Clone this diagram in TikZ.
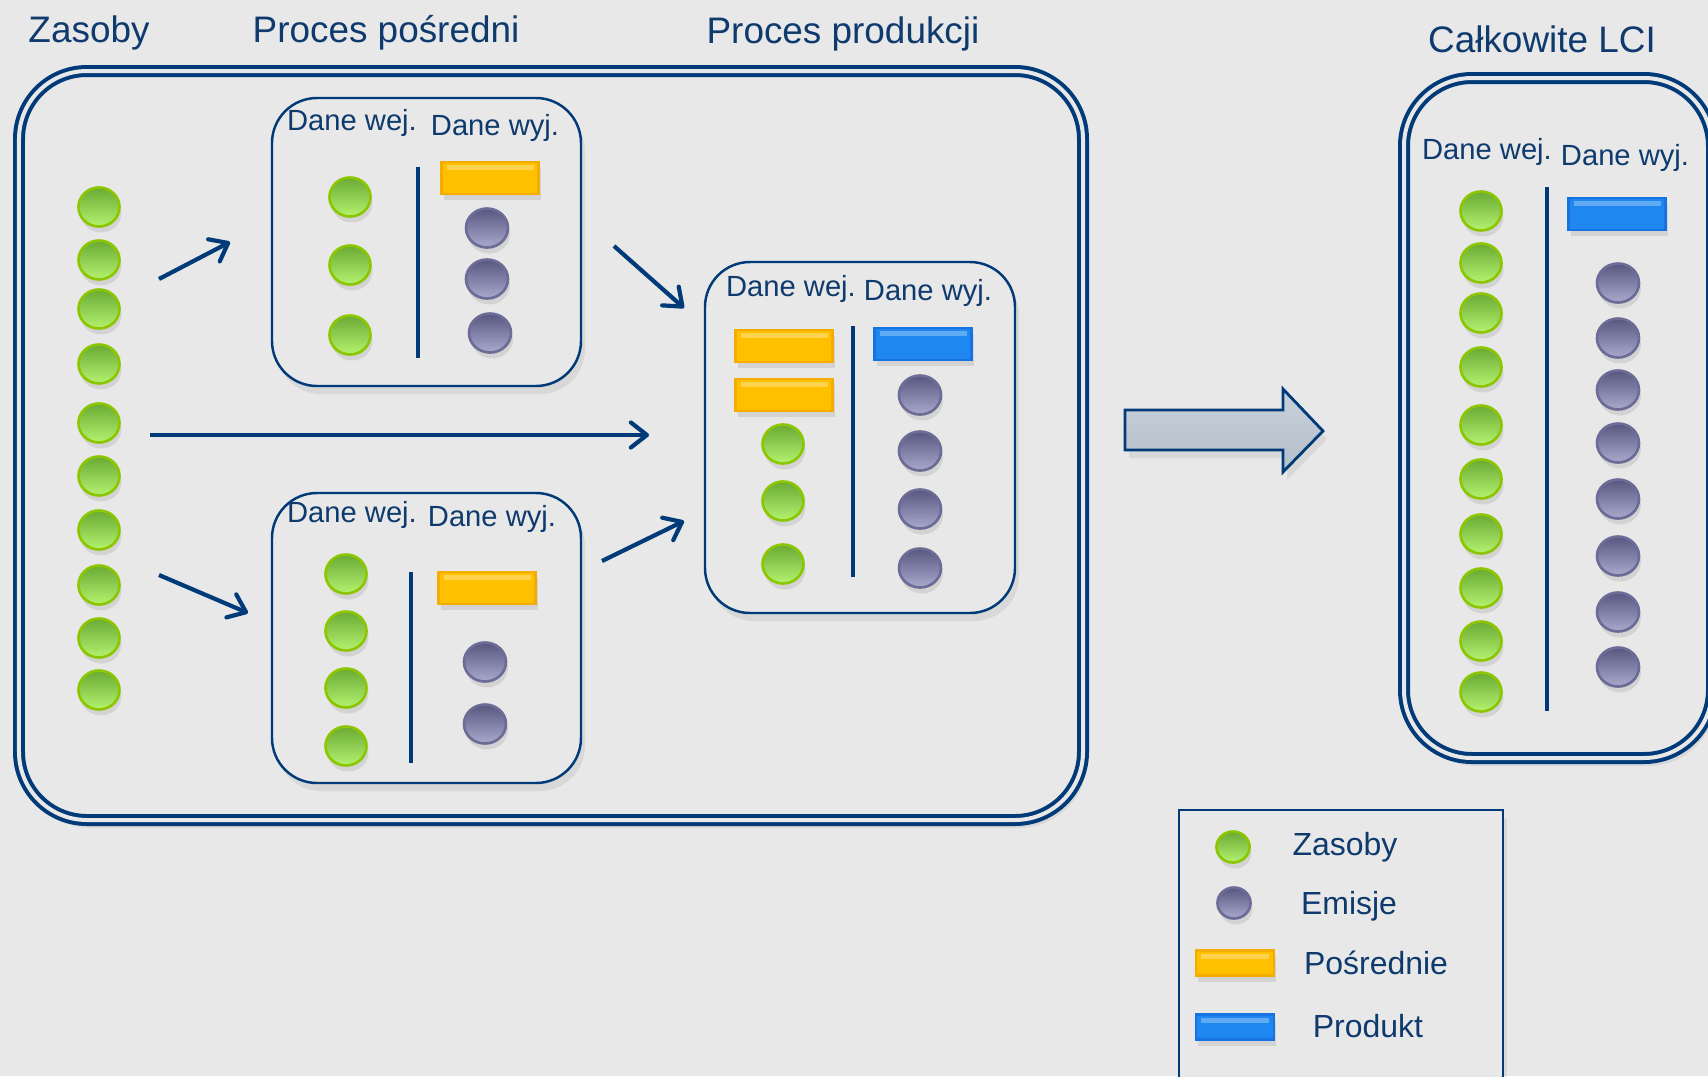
\documentclass[tikz,border=0pt]{standalone}
\usepackage{fontspec}
\setmainfont{Liberation Sans}
\usetikzlibrary{shapes.geometric, arrows.meta, shadows}

\definecolor{bg}{RGB}{232,232,232}
\definecolor{navy}{RGB}{0,58,120}
\definecolor{textblue}{RGB}{14,58,110}
\definecolor{greenTop}{RGB}{106,170,52}
\definecolor{greenBot}{RGB}{180,242,112}
\definecolor{greenEdge}{RGB}{140,198,0}
\definecolor{grayTop}{RGB}{86,86,128}
\definecolor{grayBot}{RGB}{170,170,206}
\definecolor{grayEdge}{RGB}{108,108,150}
\definecolor{orangeFill}{RGB}{255,192,0}
\definecolor{orangeEdge}{RGB}{245,172,0}
\definecolor{blueFill}{RGB}{30,135,240}
\definecolor{blueEdge}{RGB}{22,115,225}
\definecolor{arrowFill}{RGB}{178,190,202}

\begin{document}
\begin{tikzpicture}[
    frame/.style={rectangle, rounded corners=0.68cm, draw=navy, line width=0.04cm, double=bg, double distance=0.04cm, fill=bg, drop shadow={shadow xshift=0.4mm, shadow yshift=-0.8mm, opacity=0.15}},
    procbox/.style={rectangle, rounded corners=0.45cm, draw=navy, line width=0.7pt, fill=bg, drop shadow={shadow xshift=0.4mm, shadow yshift=-0.8mm, opacity=0.15}},
    legbox/.style={rectangle, draw=navy, line width=0.7pt, fill=bg, drop shadow={shadow xshift=0.4mm, shadow yshift=-0.8mm, opacity=0.15}},
    res/.style={ellipse, draw=greenEdge, line width=0.75pt, top color=greenTop, bottom color=greenBot, minimum width=0.41cm, minimum height=0.39cm, inner sep=0pt, drop shadow={shadow xshift=0.2mm, shadow yshift=-0.6mm, opacity=0.2}},
    em/.style={ellipse, draw=grayEdge, line width=0.75pt, top color=grayTop, bottom color=grayBot, minimum width=0.42cm, minimum height=0.39cm, inner sep=0pt, drop shadow={shadow xshift=0.2mm, shadow yshift=-0.6mm, opacity=0.2}},
    shine/.style={path picture={\fill[white, opacity=0.3] ([xshift=0.05cm, yshift=-0.03cm]path picture bounding box.north west) rectangle ([xshift=-0.05cm, yshift=-0.08cm]path picture bounding box.north east);}},
    inter/.style={rectangle, draw=orangeEdge, line width=0.6pt, fill=orangeFill, shine, minimum width=0.97cm, minimum height=0.32cm, inner sep=0pt, drop shadow={shadow xshift=0.2mm, shadow yshift=-0.6mm, opacity=0.2}},
    prod/.style={rectangle, draw=blueEdge, line width=0.6pt, fill=blueFill, shine, minimum width=0.97cm, minimum height=0.32cm, inner sep=0pt, drop shadow={shadow xshift=0.2mm, shadow yshift=-0.6mm, opacity=0.2}},
    title/.style={font=\fontsize{10.5}{12}\selectfont, text=textblue},
    data/.style={font=\fontsize{8.3}{10}\selectfont, text=textblue, inner sep=0pt},
    legtext/.style={font=\fontsize{9.1}{11}\selectfont, text=textblue, inner sep=0pt},
    divider/.style={draw=navy, line width=1.4pt},
    arrow/.style={-{Straight Barb[length=0.16cm, width=0.25cm, round]}, draw=navy, line width=0.042cm}
]

\useasboundingbox (0,0) rectangle (17.08,-10.76);
\fill[bg] (0,0) rectangle (17.08,-10.76);

% Frames
\node[frame, minimum width=10.64cm, minimum height=7.49cm] (main) at (5.51,-4.455) {};
\node[frame, minimum width=3.08cm, minimum height=6.80cm] (lci) at (15.58,-4.18) {};
\node[procbox, minimum width=3.09cm, minimum height=2.88cm] (procA) at (4.265,-2.42) {};
\node[procbox, minimum width=3.09cm, minimum height=2.90cm] (procB) at (4.265,-6.38) {};
\node[procbox, minimum width=3.10cm, minimum height=3.51cm] (procC) at (8.60,-4.375) {};
\node[legbox, minimum width=3.24cm, minimum height=2.90cm] (legend) at (13.41,-9.55) {};

% Titles
\node[title] (tRes) at (0.89,-0.33) {Zasoby};
\node[title] (tInter) at (3.86,-0.33) {Proces pośredni};
\node[title] (tProd) at (8.43,-0.34) {Proces produkcji};
\node[title] (tLCI) at (15.42,-0.39) {Całkowite LCI};

% Resources
\node[res] (res1) at (0.99,-2.07) {};
\node[res] (res2) at (0.99,-2.60) {};
\node[res] (res3) at (0.99,-3.09) {};
\node[res] (res4) at (0.99,-3.64) {};
\node[res] (res5) at (0.99,-4.23) {};
\node[res] (res6) at (0.99,-4.76) {};
\node[res] (res7) at (0.99,-5.30) {};
\node[res] (res8) at (0.99,-5.85) {};
\node[res] (res9) at (0.99,-6.38) {};
\node[res] (res10) at (0.99,-6.90) {};

% Intermediate process (top)
\node[data] (aIn) at (3.52,-1.23) {Dane wej.};
\node[data] (aOut) at (4.95,-1.28) {Dane wyj.};
\node[res] (aRes1) at (3.50,-1.97) {};
\node[res] (aRes2) at (3.50,-2.65) {};
\node[res] (aRes3) at (3.50,-3.35) {};
\node[inter] (aInt) at (4.90,-1.78) {};
\node[em] (aEm1) at (4.87,-2.28) {};
\node[em] (aEm2) at (4.87,-2.79) {};
\node[em] (aEm3) at (4.90,-3.33) {};
\draw[divider] (4.18,-1.67) -- (4.18,-3.58);

% Intermediate process (bottom)
\node[data] (bIn) at (3.52,-5.15) {Dane wej.};
\node[data] (bOut) at (4.92,-5.19) {Dane wyj.};
\node[res] (bRes1) at (3.46,-5.74) {};
\node[res] (bRes2) at (3.46,-6.31) {};
\node[res] (bRes3) at (3.46,-6.88) {};
\node[res] (bRes4) at (3.46,-7.46) {};
\node[inter] (bInt) at (4.87,-5.88) {};
\node[em] (bEm1) at (4.85,-6.62) {};
\node[em] (bEm2) at (4.85,-7.24) {};
\draw[divider] (4.11,-5.72) -- (4.11,-7.63);

% Production process
\node[data] (cIn) at (7.91,-2.89) {Dane wej.};
\node[data] (cOut) at (9.28,-2.93) {Dane wyj.};
\node[inter] (cInt1) at (7.84,-3.46) {};
\node[inter] (cInt2) at (7.84,-3.95) {};
\node[res] (cRes1) at (7.83,-4.44) {};
\node[res] (cRes2) at (7.83,-5.01) {};
\node[res] (cRes3) at (7.83,-5.64) {};
\node[prod] (cProd) at (9.23,-3.44) {};
\node[em] (cEm1) at (9.20,-3.95) {};
\node[em] (cEm2) at (9.20,-4.51) {};
\node[em] (cEm3) at (9.20,-5.09) {};
\node[em] (cEm4) at (9.20,-5.68) {};
\draw[divider] (8.53,-3.26) -- (8.53,-5.77);

% Total LCI
\node[data] (lIn) at (14.87,-1.52) {Dane wej.};
\node[data] (lOut) at (16.25,-1.58) {Dane wyj.};
\node[res] (lRes1) at (14.81,-2.11) {};
\node[res] (lRes2) at (14.81,-2.63) {};
\node[res] (lRes3) at (14.81,-3.13) {};
\node[res] (lRes4) at (14.81,-3.67) {};
\node[res] (lRes5) at (14.81,-4.25) {};
\node[res] (lRes6) at (14.81,-4.79) {};
\node[res] (lRes7) at (14.81,-5.34) {};
\node[res] (lRes8) at (14.81,-5.88) {};
\node[res] (lRes9) at (14.81,-6.41) {};
\node[res] (lRes10) at (14.81,-6.92) {};
\node[prod] (lProd) at (16.17,-2.14) {};
\node[em] (lEm1) at (16.18,-2.83) {};
\node[em] (lEm2) at (16.18,-3.38) {};
\node[em] (lEm3) at (16.18,-3.90) {};
\node[em] (lEm4) at (16.18,-4.43) {};
\node[em] (lEm5) at (16.18,-4.99) {};
\node[em] (lEm6) at (16.18,-5.56) {};
\node[em] (lEm7) at (16.18,-6.12) {};
\node[em] (lEm8) at (16.18,-6.67) {};
\draw[divider] (15.47,-1.87) -- (15.47,-7.11);

% Legend
\node[res, minimum width=0.33cm, minimum height=0.31cm] (legRes) at (12.33,-8.47) {};
\node[em, minimum width=0.33cm, minimum height=0.31cm] (legEm) at (12.34,-9.03) {};
\node[inter, minimum width=0.78cm, minimum height=0.25cm] (legInt) at (12.35,-9.63) {};
\node[prod, minimum width=0.78cm, minimum height=0.25cm] (legProd) at (12.35,-10.27) {};
\node[legtext] (legResT) at (13.45,-8.47) {Zasoby};
\node[legtext] (legEmT) at (13.49,-9.06) {Emisje};
\node[legtext] (legIntT) at (13.76,-9.63) {Pośrednie};
\node[legtext] (legProdT) at (13.68,-10.26) {Produkt};

% Arrows
\coordinate (a1s) at (1.59,-2.79);
\coordinate (a1e) at (2.30,-2.42);
\coordinate (a2s) at (1.50,-4.35);
\coordinate (a2e) at (6.49,-4.35);
\coordinate (a3s) at (1.59,-5.75);
\coordinate (a3e) at (2.48,-6.13);
\coordinate (a4s) at (6.14,-2.46);
\coordinate (a4e) at (6.84,-3.08);
\coordinate (a5s) at (6.02,-5.61);
\coordinate (a5e) at (6.84,-5.21);
\draw[arrow] (a1s) -- (a1e);
\draw[arrow] (a2s) -- (a2e);
\draw[arrow] (a3s) -- (a3e);
\draw[arrow] (a4s) -- (a4e);
\draw[arrow] (a5s) -- (a5e);

% Big arrow to total LCI
\draw[draw=navy, line width=0.8pt, top color=arrowFill!70!white, bottom color=arrowFill, drop shadow={shadow xshift=0.4mm, shadow yshift=-0.8mm, opacity=0.15}]
    (11.25,-4.10) -- (12.83,-4.10) -- (12.83,-3.89) -- (13.23,-4.31) -- (12.83,-4.72) -- (12.83,-4.50) -- (11.25,-4.50) -- cycle;

\end{tikzpicture}
\end{document}
